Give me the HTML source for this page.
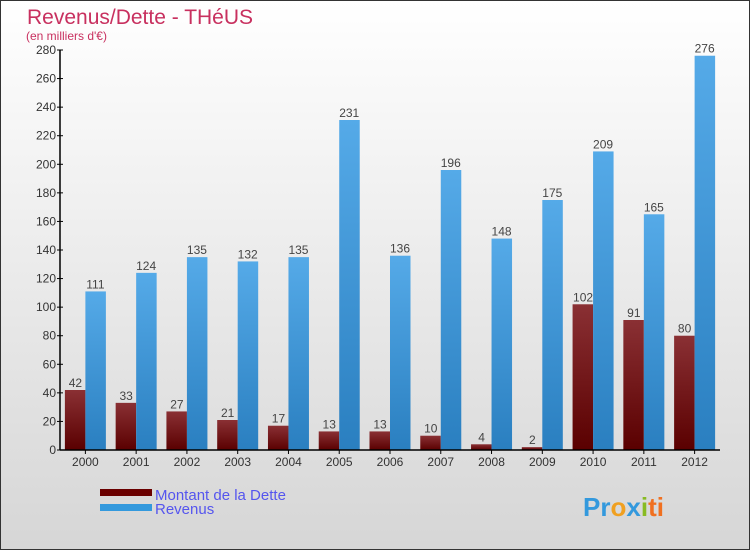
<!DOCTYPE html>
<html><head><meta charset="utf-8"><style>
body{margin:0}
#c{width:750px;height:550px;position:relative;box-sizing:border-box;border:1px solid #333;background:linear-gradient(#ffffff,#d6d6d6);font-family:"Liberation Sans",sans-serif;overflow:hidden}
</style></head><body>
<div id="c">
<svg width="750" height="550" id="s" style="position:absolute;left:-1px;top:-1px">
<defs>
<linearGradient id="gd" x1="0" y1="0" x2="0" y2="1"><stop offset="0" stop-color="#8a3034"/><stop offset="1" stop-color="#5a0000"/></linearGradient>
<linearGradient id="gr" x1="0" y1="0" x2="0" y2="1"><stop offset="0" stop-color="#55aae8"/><stop offset="1" stop-color="#2a7fc0"/></linearGradient>
</defs>
<text x="27" y="24" font-size="21" fill="#c8305f">Revenus/Dette - THéUS</text>
<text x="26" y="40" font-size="12" fill="#c8305f">(en milliers d'€)</text>
<g id="bars"></g>
<g id="axes"></g>
<g>
<rect x="100" y="489" width="52" height="7" fill="#6a0000"/>
<text x="155" y="500" font-size="15" fill="#5555ee">Montant de la Dette</text>
<rect x="100" y="504" width="52" height="7" fill="#3399dd"/>
<text x="155" y="514" font-size="15" fill="#5555ee">Revenus</text>
</g>
<text x="583" y="516" font-size="26" font-weight="bold" fill="#3399dd"><tspan fill="#3399dd">Pr</tspan><tspan fill="#f0a020">o</tspan><tspan fill="#3399dd">x</tspan><tspan fill="#88bb22">i</tspan><tspan fill="#f07020">ti</tspan></text>
</svg>
</div>
<script>
const years=["2000","2001","2002","2003","2004","2005","2006","2007","2008","2009","2010","2011","2012"];
const dette=[42,33,27,21,17,13,13,10,4,2,102,91,80];
const revenus=[111,124,135,132,135,231,136,196,148,175,209,165,276];
const yTicks=[0,20,40,60,80,100,120,140,160,180,200,220,240,260,280];
const NS="http://www.w3.org/2000/svg";
const x0=60,x1=720,y0=450,yTop=50,ymax=280;
const step=(x1-x0)/years.length;
const y=v=>y0-(v/ymax)*(y0-yTop);
const cx=i=>x0+step*(i+0.5);
function mk(t,a,p){const e=document.createElementNS(NS,t);for(const k in a)e.setAttribute(k,a[k]);p.appendChild(e);return e;}
const bars=document.getElementById('bars'),axes=document.getElementById('axes');
years.forEach((yr,i)=>{
 const c=cx(i);
 const d=mk('rect',{x:c-20.5,y:y(dette[i]),width:20.5,height:y0-y(dette[i]),fill:'url(#gd)'},bars);
 
 
 const r=mk('rect',{x:c,y:y(revenus[i]),width:20.5,height:y0-y(revenus[i]),fill:'url(#gr)'},bars);
 
 
 const t1=mk('text',{x:c-10,y:y(dette[i])-3,'font-size':12,fill:'#444','text-anchor':'middle'},bars);t1.textContent=dette[i];
 
 
 const t2=mk('text',{x:c+10,y:y(revenus[i])-3,'font-size':12,fill:'#444','text-anchor':'middle'},bars);t2.textContent=revenus[i];
 
 
 const xl=mk('text',{x:c,y:466,'font-size':12,fill:'#333','text-anchor':'middle'},axes);xl.textContent=yr;
 
 
 mk('line',{x1:c,x2:c,y1:y0,y2:y0+4,stroke:'#000'},axes);
});
mk('line',{x1:x0,x2:x0,y1:yTop,y2:y0,stroke:'#000','stroke-width':1.5},axes);
mk('line',{x1:x0,x2:x1,y1:y0,y2:y0,stroke:'#000','stroke-width':1.5},axes);
yTicks.forEach(v=>{
 mk('line',{x1:x0-3,x2:x0+3,y1:y(v),y2:y(v),stroke:'#000'},axes);
 const t=mk('text',{x:x0-4,y:y(v)+4,'font-size':12,fill:'#333','text-anchor':'end'},axes);t.textContent=v;
 
 
});
</script>
</body></html>
